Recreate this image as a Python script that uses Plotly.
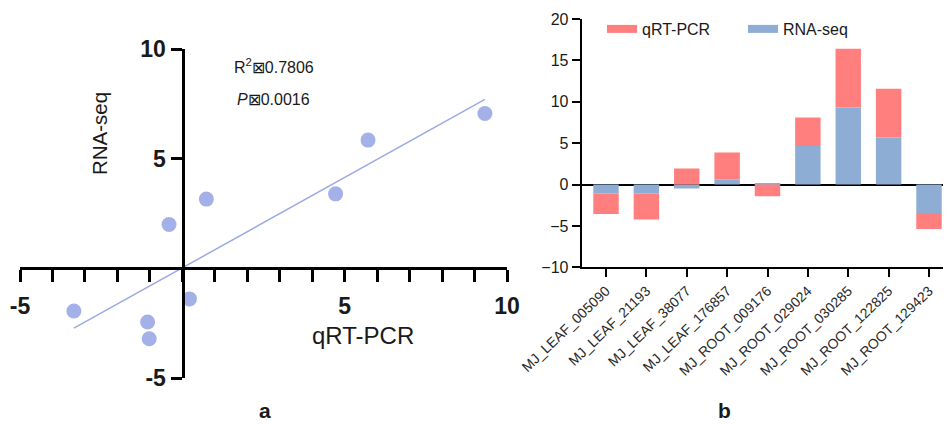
import numpy as np
import plotly.graph_objects as go

# ---------------- data ----------------
# panel a: scatter (qRT-PCR vs RNA-seq)
scatter_qrt = [-3.34, -1.07, -1.02, -0.41, 0.22, 0.74, 4.72, 5.72, 9.32]
scatter_rna = [-1.93, -2.43, -3.20, 2.01, -1.38, 3.17, 3.41, 5.86, 7.07]
a_xticks = list(range(-5, 11))
a_xtick_text = ["-5", "", "", "", "", "", "", "", "", "", "5", "", "", "", "", "10"]
a_yticks = [-5, 0, 5, 10]
a_ytick_text = ["-5", "", "5", "10"]
r2_text = "R<sup>2</sup>⊠0.7806"
p_text = "<i>P</i>⊠0.0016"

# panel b: stacked bars
genes = ["MJ_LEAF_005090", "MJ_LEAF_21193", "MJ_LEAF_38077", "MJ_LEAF_176857",
         "MJ_ROOT_009176", "MJ_ROOT_029024", "MJ_ROOT_030285", "MJ_ROOT_122825",
         "MJ_ROOT_129423"]
rna_seq = [-1.09, -1.09, -0.48, 0.60, 0.20, 4.67, 9.31, 5.68, -3.43]
qrt_pcr = [-2.46, -3.14, 1.93, 3.27, -1.41, 3.43, 7.09, 5.88, -1.94]
b_yticks = [-10, -5, 0, 5, 10, 15, 20]

# ---------------- styles ----------------
FONT = "Arial, Liberation Sans, sans-serif"
RED = "#FF7F7F"
BLUE = "#8DADD5"
DOT = "#A4B0E8"
LINE = "#9DA9E3"
OFF = 8                      # page body margin of the browser
W, H = 951 - OFF, 424 - OFF

fig = go.Figure()

# regression line
slope, intercept = np.polyfit(scatter_qrt, scatter_rna, 1)
lx = np.array([min(scatter_qrt), max(scatter_qrt)])
fig.add_trace(go.Scatter(x=lx, y=slope * lx + intercept, mode="lines",
                         line=dict(color=LINE, width=1.5), showlegend=False,
                         xaxis="x", yaxis="y", hoverinfo="skip"))
fig.add_trace(go.Scatter(x=scatter_qrt, y=scatter_rna, mode="markers",
                         marker=dict(color=DOT, size=15), showlegend=False,
                         xaxis="x", yaxis="y", cliponaxis=False))

# stacked bars
fig.add_trace(go.Bar(x=genes, y=rna_seq, name="RNA-seq", marker=dict(color=BLUE, line=dict(width=0)),
                     showlegend=False, xaxis="x2", yaxis="y2"))
fig.add_trace(go.Bar(x=genes, y=qrt_pcr, name="qRT-PCR", marker=dict(color=RED, line=dict(width=0)),
                     showlegend=False, xaxis="x2", yaxis="y2"))
# legend entries (wide flat swatches)
fig.add_trace(go.Scatter(x=[None], y=[None], mode="lines", name="qRT-PCR",
                         line=dict(color=RED, width=8), xaxis="x2", yaxis="y2"))
fig.add_trace(go.Scatter(x=[None], y=[None], mode="lines", name="RNA-seq",
                         line=dict(color=BLUE, width=8), xaxis="x2", yaxis="y2"))

def px_x(p):
    return (p - OFF) / W

def px_y(p):
    return 1 - (p - OFF) / H

fig.update_layout(
    template="none",
    width=W, height=H,
    margin=dict(l=0, r=0, t=0, b=0, pad=0, autoexpand=False),
    paper_bgcolor="white", plot_bgcolor="white",
    font=dict(family=FONT, color="#1a1a1a"),
    barmode="relative", bargap=0.37,
    showlegend=True,
    legend=dict(orientation="h", x=px_x(602), y=px_y(29), xanchor="left", yanchor="middle",
                font=dict(size=16, family=FONT, color="#1a1a1a"),
                entrywidth=96, entrywidthmode="pixels", bgcolor="rgba(0,0,0,0)"),
    xaxis=dict(domain=[px_x(20), px_x(507)], range=[-5, 10], anchor="free", automargin=False,
               position=px_y(268.3), showline=True, linewidth=3, linecolor="black",
               showgrid=False, zeroline=False, ticks="outside", ticklen=12, tickwidth=3,
               tickcolor="black", tickvals=a_xticks, ticktext=a_xtick_text,
               tickfont=dict(size=23, family=FONT, color="#1a1a1a", weight="bold"),
               ticklabelstandoff=4),
    yaxis=dict(domain=[px_y(378.3), px_y(49.3)], range=[-5, 10], anchor="free", automargin=False,
               position=px_x(182.5), showline=True, linewidth=3, linecolor="black",
               showgrid=False, zeroline=False, ticks="outside", ticklen=11, tickwidth=3,
               tickcolor="black", tickvals=a_yticks, ticktext=a_ytick_text,
               tickfont=dict(size=23, family=FONT, color="#1a1a1a", weight="bold")),
    xaxis2=dict(domain=[px_x(581.7), 1.0], range=[-0.602, 8.545], anchor="y2", automargin=False,
                showline=True, linewidth=2, linecolor="black", showgrid=False, zeroline=False,
                ticks="outside", ticklen=8, tickwidth=2, tickcolor="black", tickangle=-44,
                tickfont=dict(size=14, family=FONT, color="#2a2a2a"), ticklabelstandoff=0),
    yaxis2=dict(domain=[px_y(267.3), px_y(19)], range=[-10, 20], anchor="x2", automargin=False,
                showline=True, linewidth=2, linecolor="black", showgrid=False,
                zeroline=True, zerolinewidth=2, zerolinecolor="black",
                ticks="outside", ticklen=8, tickwidth=2, tickcolor="black",
                tickvals=b_yticks, tickfont=dict(size=16, family=FONT, color="#1a1a1a")),
)

annotations = [
    dict(text="qRT-PCR", x=px_x(363), y=px_y(335), font=dict(size=24)),
    dict(text="RNA-seq", x=px_x(99), y=px_y(134), font=dict(size=20.5), textangle=-90),
    dict(text=r2_text, x=px_x(232), y=px_y(66), xanchor="left", font=dict(size=16)),
    dict(text=p_text, x=px_x(235), y=px_y(99), xanchor="left", font=dict(size=16)),
    dict(text="<b>a</b>", x=px_x(265), y=px_y(410), font=dict(size=21)),
    dict(text="<b>b</b>", x=px_x(724), y=px_y(410), font=dict(size=21)),
]
for a in annotations:
    a.setdefault("xanchor", "center")
    a.update(xref="paper", yref="paper", yanchor="middle", showarrow=False)
    a["font"].update(family=FONT, color="#1a1a1a")
    fig.add_annotation(**a)

fig.write_html("out.html")
